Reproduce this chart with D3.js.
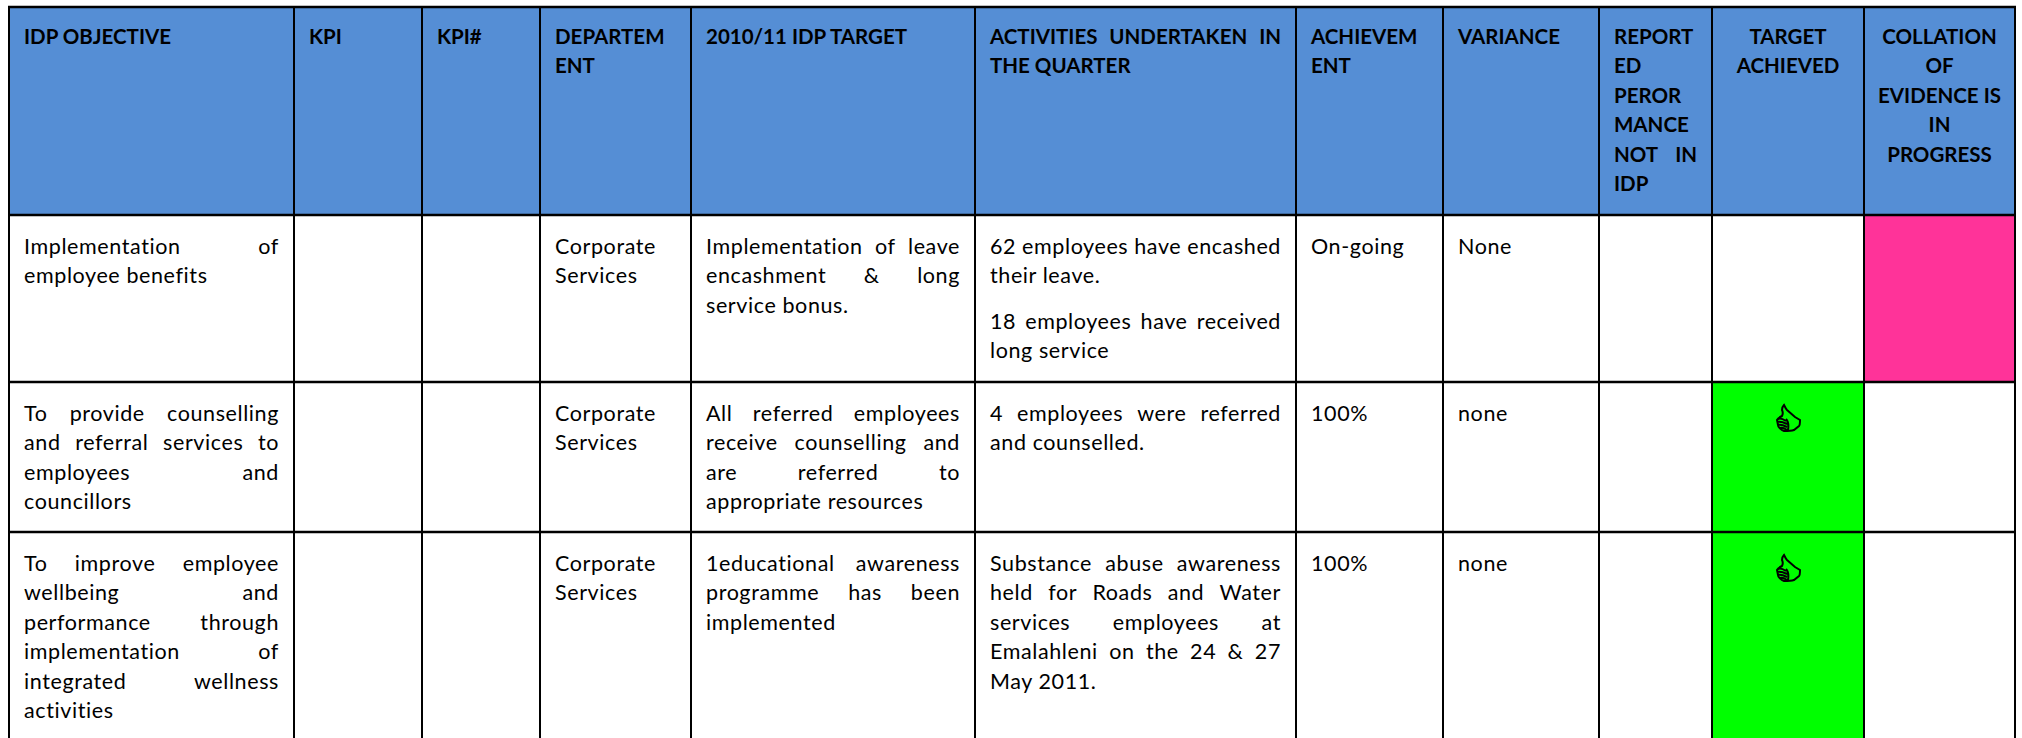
<!DOCTYPE html>
<html>
<head>
<meta charset="utf-8">
<script src="https://cdnjs.cloudflare.com/ajax/libs/d3/7.8.5/d3.min.js"></script>
<style>
  html, body { margin: 0; padding: 0; background: #fff; }
  svg { display: block; }
  text { font-family: Lato, "Open Sans", sans-serif; fill: #000; }
</style>
</head>
<body>
<svg id="table" width="2022" height="738"></svg>
<script>
// Table content, one array per column. Each cell is a list of paragraphs, each paragraph a list of lines.
const headers = [
  ["IDP OBJECTIVE"],
  ["KPI"],
  ["KPI#"],
  ["DEPARTEM", "ENT"],
  ["2010/11 IDP TARGET"],
  ["ACTIVITIES UNDERTAKEN IN", "THE QUARTER"],
  ["ACHIEVEM", "ENT"],
  ["VARIANCE"],
  ["REPORT", "ED", "PEROR", "MANCE", "NOT IN", "IDP"],
  ["TARGET", "ACHIEVED"],
  ["COLLATION", "OF", "EVIDENCE IS", "IN", "PROGRESS"]
];
const objectives = [
  [["Implementation of", "employee benefits"]],
  [["To provide counselling", "and referral services to", "employees and", "councillors"]],
  [["To improve employee", "wellbeing and", "performance through", "implementation of", "integrated wellness", "activities"]]
];
const departments = [
  [["Corporate", "Services"]],
  [["Corporate", "Services"]],
  [["Corporate", "Services"]]
];
const targets = [
  [["Implementation of leave", "encashment & long", "service bonus."]],
  [["All referred employees", "receive counselling and", "are referred to", "appropriate resources"]],
  [["1educational awareness", "programme has been", "implemented"]]
];
const activities = [
  [["62 employees have encashed", "their leave."], ["18 employees have received", "long service"]],
  [["4 employees were referred", "and counselled."]],
  [["Substance abuse awareness", "held for Roads and Water", "services employees at", "Emalahleni on the 24 & 27", "May 2011."]]
];
const achievements = [[["On-going"]], [["100%"]], [["100%"]]];
const variances = [[["None"]], [["none"]], [["none"]]];
const targetAchieved = [false, true, true];
const evidenceInProgress = [true, false, false];

// Layout
const columnEdges = [9, 294, 422, 540, 691, 975, 1296, 1443, 1599, 1712, 1864, 2015];
const rowEdges = [7, 215, 382, 532, 745];
const justifiedColumns = [0, 4, 5, 8];
const centredColumns = [9, 10];
const textColumns = { 0: objectives, 3: departments, 4: targets, 5: activities, 6: achievements, 7: variances };

const padding = 15;
const lineStep = 29.4;
const paragraphGap = 16;

const svg = d3.select("#table");
const colIndex = d3.range(columnEdges.length - 1);

const xEdge = d3.scaleOrdinal(d3.range(columnEdges.length), columnEdges);
const yEdge = d3.scaleOrdinal(d3.range(rowEdges.length), rowEdges);

// Cell fills
const fills = [];
colIndex.forEach((c) => fills.push({ r: 0, c: c, color: "#558ed5" }));
targetAchieved.forEach((on, i) => {
  if (on) fills.push({ r: i + 1, c: 9, color: "#00ff00" });
});
evidenceInProgress.forEach((on, i) => {
  if (on) fills.push({ r: i + 1, c: 10, color: "#ff3399" });
});

svg.selectAll("rect.cell")
  .data(fills)
  .join("rect")
  .attr("class", "cell")
  .attr("x", (d) => xEdge(d.c))
  .attr("y", (d) => yEdge(d.r))
  .attr("width", (d) => xEdge(d.c + 1) - xEdge(d.c))
  .attr("height", (d) => yEdge(d.r + 1) - yEdge(d.r))
  .attr("fill", (d) => d.color);

// Writes one cell, spreading the words of justified lines over the cell width
function drawCell(paragraphs, r, c, bold) {
  const left = xEdge(c) + padding;
  const right = xEdge(c + 1) - padding;
  const g = svg.append("g")
    .attr("font-size", bold ? 20.5 : 21.5)
    .attr("letter-spacing", bold ? 0 : 0.6)
    .attr("font-weight", bold ? 700 : 400);
  let y = yEdge(r) + (bold ? 37 : 39);
  paragraphs.forEach((lines) => {
    lines.forEach((line, i) => {
      const words = line.split(" ");
      const isLast = i == lines.length - 1;
      const spread = justifiedColumns.includes(c) && !isLast && words.length > 1;
      if (spread) {
        const nodes = words.map((w) => g.append("text").attr("y", y).text(w));
        const widths = nodes.map((n) => n.node().getComputedTextLength());
        const gap = (right - left - d3.sum(widths)) / (words.length - 1);
        let x = left;
        nodes.forEach((n, k) => {
          n.attr("x", x);
          x += widths[k] + gap;
        });
      } else if (centredColumns.includes(c)) {
        g.append("text")
          .attr("x", (xEdge(c) + xEdge(c + 1)) / 2)
          .attr("y", y)
          .attr("text-anchor", "middle")
          .text(line);
      } else {
        g.append("text").attr("x", left).attr("y", y).text(line);
      }
      y += lineStep;
    });
    y += paragraphGap;
  });
}

headers.forEach((lines, c) => drawCell([lines], 0, c, true));
Object.keys(textColumns).forEach((key) => {
  textColumns[key].forEach((cell, i) => drawCell(cell, i + 1, +key, false));
});

// Thumbs-up mark in the achieved cells
const thumb = "M-4,-13 C-3,-11 -2,-9 -1,-8 L7,-1 L12,2 C12,5 12,7 11,8 L6,12 C3,13 -1,13 -4,13 C-7,12 -10,9 -10,7 L-11,2 C-10,0 -8,-1 -6,-2 C-5,-4 -5,-6 -6,-8 C-6,-10 -5,-12 -4,-13 Z"
  + " M-10,1 C-8,0 -5,1 -2,3 M-11,4 C-8,3 -5,4 -1,6 M-10,7 C-8,6 -5,7 -1,9 M-8,10 C-6,9 -4,10 -1,12 M-2,1 C0,3 1,6 0,12";

svg.selectAll("path.thumb")
  .data(targetAchieved.map((on, i) => ({ on: on, r: i + 1 })).filter((d) => d.on))
  .join("path")
  .attr("class", "thumb")
  .attr("transform", (d) => `translate(${(xEdge(9) + xEdge(10)) / 2},${yEdge(d.r) + 36})`)
  .attr("d", thumb)
  .attr("fill", "none")
  .attr("stroke", "#000")
  .attr("stroke-width", 2);

// Grid lines
svg.selectAll("line.v")
  .data(d3.range(columnEdges.length))
  .join("line")
  .attr("class", "v")
  .attr("x1", (d) => xEdge(d))
  .attr("x2", (d) => xEdge(d))
  .attr("y1", rowEdges[0] - 1)
  .attr("y2", 738)
  .attr("stroke", "#000")
  .attr("stroke-width", 2);

svg.selectAll("line.h")
  .data(d3.range(rowEdges.length - 1))
  .join("line")
  .attr("class", "h")
  .attr("x1", columnEdges[0] - 1)
  .attr("x2", columnEdges[columnEdges.length - 1] + 1)
  .attr("y1", (d) => yEdge(d))
  .attr("y2", (d) => yEdge(d))
  .attr("stroke", "#000")
  .attr("stroke-width", 2.5);
</script>
</body>
</html>
